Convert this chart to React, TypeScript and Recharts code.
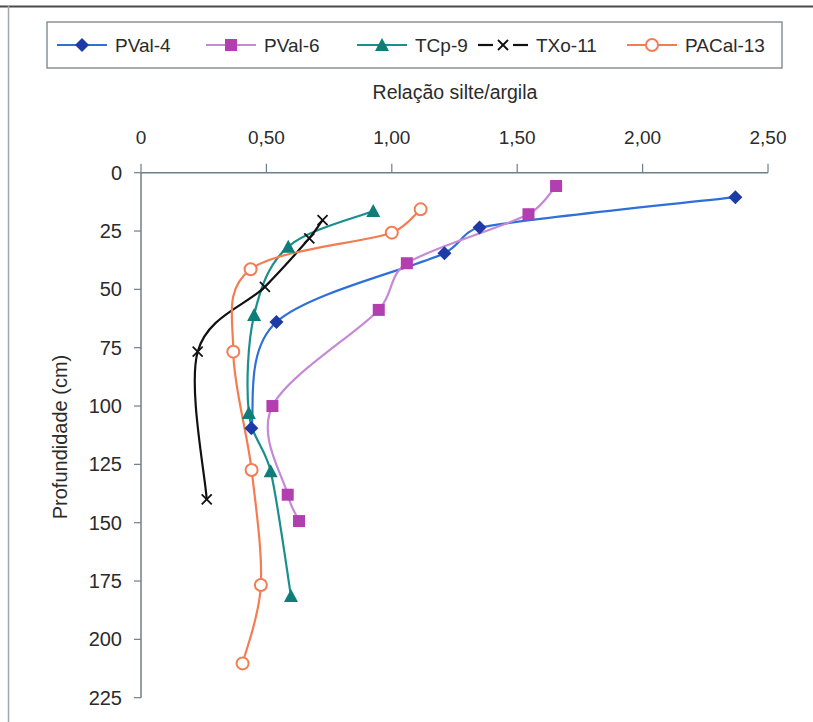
import React from 'react';
import { LineChart, Line, XAxis, YAxis } from 'recharts';

// ---- data ----
const xTicks = [0, 0.5, 1, 1.5, 2, 2.5];
const yTicks = [0, 25, 50, 75, 100, 125, 150, 175, 200, 225];

const depthPVal4 = [10.5, 23.5, 34.5, 64, 109.5];
const ratioPVal4 = [2.37, 1.35, 1.21, 0.54, 0.44];

const depthPVal6 = [5.7, 17.8, 38.8, 58.8, 100, 138, 149.3];
const ratioPVal6 = [1.655, 1.545, 1.06, 0.948, 0.524, 0.585, 0.63];

const depthTCp9 = [16.4, 31.7, 61, 103, 128, 181.4];
const ratioTCp9 = [0.926, 0.587, 0.451, 0.43, 0.517, 0.598];

const depthTXo11 = [20.3, 28.1, 48.9, 76.7, 140];
const ratioTXo11 = [0.724, 0.671, 0.494, 0.226, 0.262];

const depthPACal13 = [15.7, 25.7, 41.4, 76.7, 127.4, 176.7, 210.3];
const ratioPACal13 = [1.115, 1.0, 0.437, 0.368, 0.441, 0.478, 0.405];

const seriesNames = ['PVal-4', 'PVal-6', 'TCp-9', 'TXo-11', 'PACal-13'];

const toRows = (d: number[], v: number[]) => d.map((depth, i) => ({ d: depth, v: v[i] }));

type Kind = 'diamond' | 'square' | 'triangle' | 'x' | 'circle';

const series: { name: string; rows: { d: number; v: number }[]; kind: Kind; line: string; mark: string }[] = [
  { name: seriesNames[0], rows: toRows(depthPVal4, ratioPVal4), kind: 'diamond', line: '#2f6fd8', mark: '#1e3aa6' },
  { name: seriesNames[1], rows: toRows(depthPVal6, ratioPVal6), kind: 'square', line: '#c58ad6', mark: '#b23eb0' },
  { name: seriesNames[2], rows: toRows(depthTCp9, ratioTCp9), kind: 'triangle', line: '#1a8f8c', mark: '#0f7d78' },
  { name: seriesNames[3], rows: toRows(depthTXo11, ratioTXo11), kind: 'x', line: '#111111', mark: '#111111' },
  { name: seriesNames[4], rows: toRows(depthPACal13, ratioPACal13), kind: 'circle', line: '#f47c52', mark: '#f47c52' },
];

const FONT = '"Liberation Sans", Arial, Helvetica, sans-serif';
const AXIS = '#6f7f88';
const TEXT = '#2b2b2b';

// Excel-like smoothed line: Catmull-Rom Beziers with control arms capped by segment length
function excelSmooth(context: any) {
  let pts: [number, number][] = [];
  const cap = (dx: number, dy: number, seg: number) => {
    const len = Math.hypot(dx, dy);
    const max = seg * 0.4;
    if (len > max && len > 0) {
      const k = max / len;
      return [dx * k, dy * k];
    }
    return [dx, dy];
  };
  return {
    areaStart() {},
    areaEnd() {},
    lineStart() {
      pts = [];
    },
    point(x: number, y: number) {
      pts.push([+x, +y]);
    },
    lineEnd() {
      const n = pts.length;
      if (n === 0) return;
      context.moveTo(pts[0][0], pts[0][1]);
      if (n === 1) return;
      for (let i = 0; i < n - 1; i++) {
        const p0 = pts[i - 1] || pts[i];
        const p1 = pts[i];
        const p2 = pts[i + 1];
        const p3 = pts[i + 2] || pts[i + 1];
        const seg = Math.hypot(p2[0] - p1[0], p2[1] - p1[1]);
        const [a1x, a1y] = cap((p2[0] - p0[0]) / 6, (p2[1] - p0[1]) / 6, seg);
        const [a2x, a2y] = cap((p3[0] - p1[0]) / 6, (p3[1] - p1[1]) / 6, seg);
        context.bezierCurveTo(p1[0] + a1x, p1[1] + a1y, p2[0] - a2x, p2[1] - a2y, p2[0], p2[1]);
      }
    },
  };
}

function Marker({ kind, cx, cy, color }: { kind: Kind; cx: number; cy: number; color: string }) {
  switch (kind) {
    case 'diamond':
      return <polygon points={`${cx},${cy - 7} ${cx + 7},${cy} ${cx},${cy + 7} ${cx - 7},${cy}`} fill={color} />;
    case 'square':
      return <rect x={cx - 6} y={cy - 6} width={12} height={12} fill={color} />;
    case 'triangle':
      return <polygon points={`${cx},${cy - 7} ${cx + 7},${cy + 6} ${cx - 7},${cy + 6}`} fill={color} />;
    case 'x':
      return (
        <g stroke={color} strokeWidth={1.8}>
          <line x1={cx - 5} y1={cy - 5} x2={cx + 5} y2={cy + 5} />
          <line x1={cx - 5} y1={cy + 5} x2={cx + 5} y2={cy - 5} />
        </g>
      );
    default:
      return <circle cx={cx} cy={cy} r={6} fill="#ffffff" stroke={color} strokeWidth={2} />;
  }
}

const fmt = (v: number) => (v === 0 ? '0' : v.toFixed(2).replace('.', ','));

const legendX = [57, 206, 357, 478, 627];

export default function App() {
  return (
    <div
      style={{
        position: 'fixed',
        left: 0,
        top: 0,
        width: 813,
        height: 722,
        overflow: 'hidden',
        background: '#ffffff',
        fontFamily: FONT,
      }}
    >
      <style>{`html,body{overflow:hidden;margin:0;}::-webkit-scrollbar{display:none;}`}</style>
      <LineChart
        width={813}
        height={722}
        layout="vertical"
        margin={{ top: 112.7, right: 45, bottom: 24.3, left: 81 }}
      >
        <XAxis
          type="number"
          orientation="top"
          domain={[0, 2.5]}
          ticks={xTicks}
          interval={0}
          height={60}
          tickFormatter={fmt}
          tickSize={9}
          tickMargin={20}
          allowDataOverflow
          axisLine={{ stroke: AXIS, strokeWidth: 1.5 }}
          tickLine={{ stroke: AXIS, strokeWidth: 1.2 }}
          tick={{ fill: TEXT, fontSize: 19, fontFamily: FONT }}
        />
        <YAxis
          type="number"
          dataKey="d"
          domain={[0, 225]}
          ticks={yTicks}
          interval={0}
          width={60}
          tickSize={7}
          tickMargin={12}
          allowDataOverflow
          axisLine={{ stroke: AXIS, strokeWidth: 1.5 }}
          tickLine={{ stroke: AXIS, strokeWidth: 1.2 }}
          tick={{ fill: TEXT, fontSize: 20, fontFamily: FONT }}
        />
        {series.map((s) => (
          <Line
            key={s.name}
            name={s.name}
            data={s.rows}
            dataKey="v"
            type={excelSmooth as any}
            stroke={s.line}
            strokeWidth={2.2}
            isAnimationActive={false}
            dot={(p: any) => (
              <Marker key={`${s.name}-${p.index}`} kind={s.kind} cx={p.cx} cy={p.cy} color={s.mark} />
            )}
            activeDot={false}
          />
        ))}
      </LineChart>
      <svg
        width={813}
        height={722}
        style={{ position: 'absolute', left: 0, top: 0, pointerEvents: 'none' }}
      >
        <line x1={0} y1={6.5} x2={813} y2={6.5} stroke="#4a4a4a" strokeWidth={2} />
        <line x1={8.5} y1={6} x2={8.5} y2={722} stroke="#a0a8ac" strokeWidth={1.5} />
        <rect x={47} y={22} width={735} height={46} fill="#ffffff" stroke="#8a9196" strokeWidth={1.5} />
        {series.map((s, i) => {
          const x0 = legendX[i];
          const cy = 45;
          return (
            <g key={s.name}>
              {s.kind === 'x' ? (
                <g stroke={s.line} strokeWidth={2.2}>
                  <line x1={x0} y1={cy} x2={x0 + 15} y2={cy} />
                  <line x1={x0 + 35} y1={cy} x2={x0 + 50} y2={cy} />
                </g>
              ) : (
                <line x1={x0} y1={cy} x2={x0 + 50} y2={cy} stroke={s.line} strokeWidth={2.2} />
              )}
              <Marker kind={s.kind} cx={x0 + 25} cy={cy} color={s.mark} />
              <text x={x0 + 58} y={cy + 7} fontSize={19} fill={TEXT} fontFamily={FONT}>
                {s.name}
              </text>
            </g>
          );
        })}
        <text x={455} y={99} textAnchor="middle" fontSize={19.5} fill={TEXT} fontFamily={FONT}>
          Relação silte/argila
        </text>
        <text
          x={60}
          y={437}
          textAnchor="middle"
          dominantBaseline="central"
          fontSize={20}
          fill={TEXT}
          fontFamily={FONT}
          transform="rotate(-90 60 437)"
        >
          Profundidade (cm)
        </text>
      </svg>
    </div>
  );
}
